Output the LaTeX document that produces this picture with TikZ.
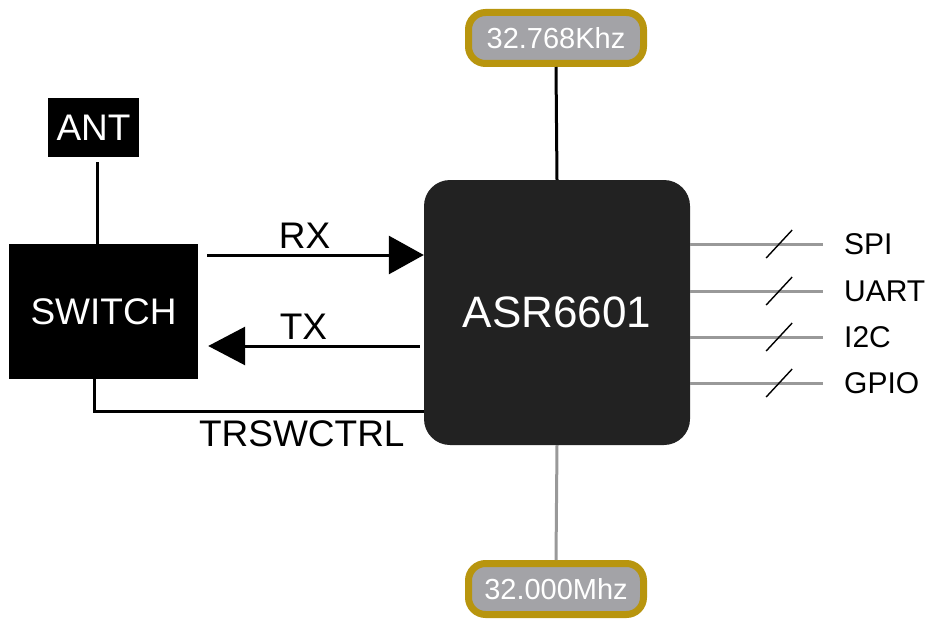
\documentclass[tikz,border=0pt]{standalone}
\usepackage{fontspec}
\setmainfont{Liberation Sans}
\usetikzlibrary{arrows.meta, positioning}
\definecolor{chipgray}{HTML}{222222}
\definecolor{xgold}{HTML}{B8950E}
\definecolor{xgray}{HTML}{A3A3A7}
\definecolor{busgray}{HTML}{999999}
\begin{document}
\begin{tikzpicture}[x=1pt,y=-1pt,
  blk/.style={fill=black, text=white, inner sep=0pt},
  xtal/.style={draw=xgold, line width=7pt, fill=xgray, rounded corners=17pt,
    text=white, minimum width=175pt, minimum height=51pt,
    font=\fontsize{29}{29}\selectfont},
  wire/.style={line width=3pt},
  bus/.style={line width=3pt, draw=busgray},
  lbl/.style={font=\fontsize{37}{37}\selectfont, inner sep=0pt}]
  \useasboundingbox (0,0) rectangle (927,626);

  % antenna and switch
  \node[blk, minimum width=91pt, minimum height=59pt, font=\fontsize{37}{37}\selectfont]
    (ant) at (93.5,127.5) {ANT};
  \node[blk, minimum width=189pt, minimum height=135pt, font=\fontsize{37}{37}\selectfont]
    (sw) at (103.5,311.5) {SWITCH};
  \draw[wire] ([xshift=3.5pt,yshift=-5pt]ant.south) -- ([xshift=-6.5pt]sw.north); % ant feed

  % chip
  \node[fill=chipgray, rounded corners=26pt, minimum width=266pt, minimum height=265pt,
    text=white, font=\fontsize{44}{44}\selectfont] (chip) at (557,312.5) {ASR6601};

  % crystals
  \node[xtal] (xlo) at (556,38) {32.768Khz};
  \node[xtal] (xhi) at (556,589) {32.000Mhz};
  \draw[wire] (xlo.south) -- (chip.north);
  \draw[bus] (chip.south) -- (xhi.north);

  % rx / tx / control
  \draw[wire, -{Triangle[length=35pt,width=38pt]}]
    ([xshift=9pt,yshift=56.5pt]sw.east) -- ([yshift=57.5pt]chip.west)
    node[lbl, pos=0.45, above=5pt] (rx) {RX};
  \draw[wire, -{Triangle[length=37pt,width=38pt]}]
    ([xshift=-4pt,yshift=-33.5pt]chip.west) -- ([xshift=10pt,yshift=-34.5pt]sw.east)
    node[lbl, pos=0.55, above=5pt] (tx) {TX};
  \draw[wire] ([xshift=-9.5pt]sw.south) |- ([yshift=-98.5pt]chip.west)
    node[lbl, pos=0.815, below=8pt] (ctrl) {TRSWCTRL};

  % peripheral buses
  \foreach \name/\y in {SPI/244, UART/291, I2C/337, GPIO/383} {
    \node[anchor=west, inner xsep=21pt, inner ysep=0pt, font=\fontsize{30}{30}\selectfont]
      (p\name) at (823,\y) {\name};
    \draw[bus] (chip.east |- p\name.west) -- coordinate[pos=0.67] (m\name) (p\name.west);
    \draw[line width=1.4pt] ([shift={(-13,14)}]m\name) -- ([shift={(13,-14)}]m\name);
  }
\end{tikzpicture}
\end{document}
